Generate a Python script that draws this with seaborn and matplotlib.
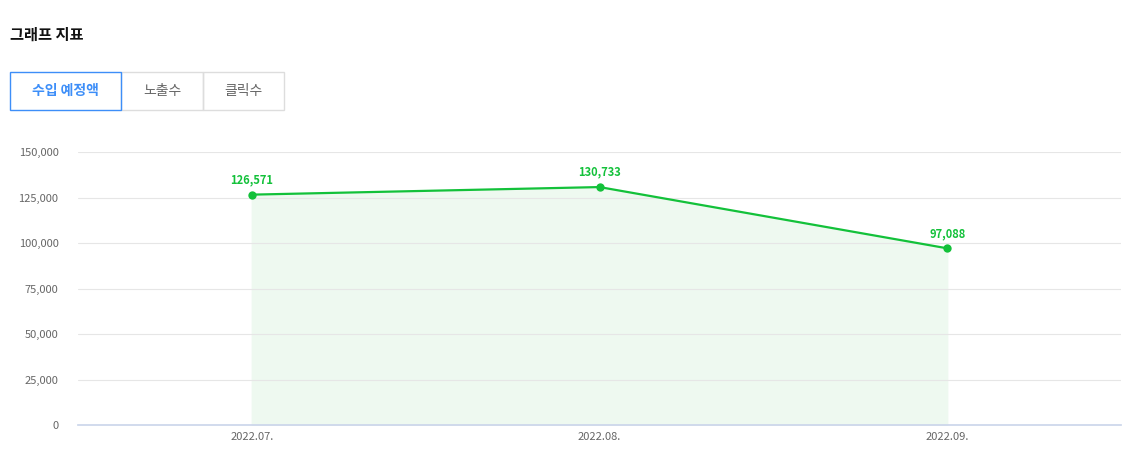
import matplotlib
matplotlib.use("Agg")
import matplotlib.pyplot as plt
import seaborn as sns
import pandas as pd
from matplotlib.patches import Rectangle

months = ["2022.07.", "2022.08.", "2022.09."]
values = [126571, 130733, 97088]
yticks = [0, 25000, 50000, 75000, 100000, 125000, 150000]
tabs = ["수입 예정액", "노출수", "클릭수"]

sns.set_theme(style="white")
plt.rcParams['font.family'] = ['Noto Sans CJK KR', 'DejaVu Sans']

W, H = 1146, 470
fig = plt.figure(figsize=(W/100, H/100), dpi=100)
ax = fig.add_axes([78/W, 1-425/H, (1121-78)/W, (425-152)/H])

df = pd.DataFrame({"x": range(len(months)), "v": values})
green = "#13c13a"
sns.lineplot(data=df, x="x", y="v", ax=ax, color=green, lw=1.6, marker="o",
             markersize=6, markeredgewidth=0)
ax.fill_between(df["x"], df["v"], 0, color="#eef9f0", zorder=0)
for x, v in zip(df["x"], df["v"]):
    ax.annotate(f"{v:,}", (x, v), xytext=(0, 6), textcoords="offset points",
                ha="center", va="bottom", fontsize=8, color=green, fontweight="bold")

ax.set_xlim(-0.5, 2.5)
ax.set_ylim(0, 150000)
ax.set_yticks(yticks)
ax.set_yticklabels([f"{t:,}" for t in yticks], fontsize=8, color="#666666")
ax.yaxis.grid(True, color="#e6e6e6", lw=0.8)
ax.tick_params(axis="y", length=0, pad=14)
ax.set_xticks([-0.5, 0.5, 1.5, 2.5])
ax.set_xticklabels([])
ax.set_xticks(range(3), minor=True)
ax.set_xticklabels(months, minor=True, fontsize=8, color="#666666")
ax.tick_params(axis="x", which="major", length=8, color="#ccd6eb", direction="out")
ax.tick_params(axis="x", which="minor", length=0, pad=5)
for s in ["top", "right", "left"]:
    ax.spines[s].set_visible(False)
ax.spines["bottom"].set_color("#ccd6eb")
ax.set_xlabel(""); ax.set_ylabel("")

fig.text(10/W, 1-35/H, "그래프 지표", fontsize=11, fontweight="bold", va="center", color="#111111")
bounds = [(10, 121), (121, 203), (203, 284)]
for i, (lab, (x0, x1)) in enumerate(zip(tabs, bounds)):
    ec = "#3d8ef8" if i == 0 else "#dddddd"
    fig.patches.append(Rectangle((x0/W, 1-110/H), (x1-x0)/W, 38/H, transform=fig.transFigure,
                                 fill=False, edgecolor=ec, lw=1, zorder=3 if i == 0 else 2))
    fig.text((x0+x1)/2/W, 1-91/H, lab, ha="center", va="center", fontsize=10,
             color="#3d8ef8" if i == 0 else "#666666", fontweight="bold" if i == 0 else "normal")

fig.savefig("out.png", dpi=100)
